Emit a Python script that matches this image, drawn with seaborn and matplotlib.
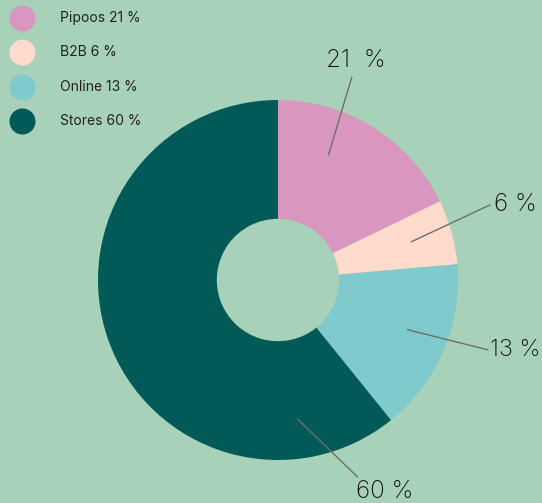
import numpy as np
import matplotlib
matplotlib.use("Agg")
import matplotlib.pyplot as plt
import seaborn as sns

# ---- data ----
categories = ["Pipoos", "B2B", "Online", "Stores"]
label_pct = [21, 6, 13, 60]                 # percentages printed on the chart
wedge_share = [17.8, 5.8, 15.6, 60.8]       # wedge sizes as drawn in the picture
colors = ["#d997bf", "#fedbcc", "#7fcacc", "#015a58"]

# ---- style ----
sns.set_style("white")
plt.rcParams["font.family"] = ["Inter", "DejaVu Sans"]
BG = "#a7d1b9"
palette = sns.color_palette(colors)

W, H, DPI = 542, 503, 100
fig = plt.figure(figsize=(W / DPI, H / DPI), dpi=DPI, facecolor=BG)
ax = fig.add_axes([0, 0, 1, 1])
ax.set_facecolor(BG)

# pixel geometry of the pie: centre (278, 280), radius 180 px
cx, cy, R = 278, 280, 180

ax.pie(wedge_share, colors=palette, startangle=90, counterclock=False,
       radius=1, center=(0, 0),
       wedgeprops=dict(width=0.66, linewidth=0))
ax.set_xlim(-cx / R, (W - cx) / R)
ax.set_ylim(-(H - cy) / R, cy / R)
ax.set_aspect("auto")
ax.axis("off")

# leader lines / labels layout (angles in degrees)
start_ang = [68, 16, -21, -82]
start_r = [0.75, 0.77, 0.77, 0.78]
end_ang = [70, 19.5, -18.4, -68]
end_r = [1.20, 1.25, 1.23, 1.18]
text_off = [(0.02, 0.09), (0.02, 0.0), (0.01, 0.0), (0.15, -0.08)]
text_ha = ["center", "left", "left", "center"]
text_size = [17.5, 17.5, 17, 17.5]
sep = ["  ", " ", " ", " "]

for i, v in enumerate(label_pct):
    a0, a1 = np.radians(start_ang[i]), np.radians(end_ang[i])
    x0, y0 = start_r[i] * np.cos(a0), start_r[i] * np.sin(a0)
    x1, y1 = end_r[i] * np.cos(a1), end_r[i] * np.sin(a1)
    ax.plot([x0, x1], [y0, y1], color="#6e6e6e", lw=1)
    ax.text(x1 + text_off[i][0], y1 + text_off[i][1], f"{v}{sep[i]}%",
            ha=text_ha[i], va="center", fontsize=text_size[i], fontweight="light",
            color="#111111")

# legend (manual)
for i, (cat, v) in enumerate(zip(categories, label_pct)):
    ypx = 18 + 34.3 * i
    ax.scatter([22 / W], [1 - ypx / H], s=(26 * 0.72) ** 2, color=palette[i],
               transform=fig.transFigure, clip_on=False, linewidths=0)
    fig.text(60 / W, 1 - ypx / H, f"{cat} {v} %", ha="left", va="center",
             fontsize=10, color="#222222")

fig.savefig("out.png", dpi=DPI, facecolor=BG)
